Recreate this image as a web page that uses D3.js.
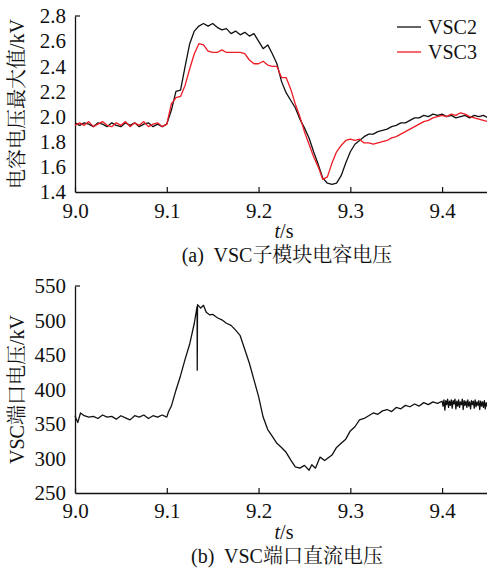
<!DOCTYPE html>
<html>
<head>
<meta charset="utf-8">
<script src="https://cdn.jsdelivr.net/npm/d3@7"></script>
<style>
  html, body { margin: 0; padding: 0; background: #fff; }
  svg { display: block; }
  text { font-family: "Liberation Serif", "Noto Serif CJK SC"; fill: #111; }
  .han { font-family: "Noto Serif CJK SC", "Noto Sans CJK SC"; }
</style>
</head>
<body>
<div id="chart"></div>
<script>

// DATA

const tickTime = [9.0, 9.1, 9.2, 9.3, 9.4];
const tickCap = [1.4, 1.6, 1.8, 2.0, 2.2, 2.4, 2.6, 2.8];
const tickDc = [250, 300, 350, 400, 450, 500, 550];

const seriesNames = ['VSC2', 'VSC3'];

// capacitor voltage, sampled every 5 ms from 9.000 to 9.450 s
const tCap = [
  9.000, 9.005, 9.010, 9.015, 9.020, 9.025, 9.030, 9.035, 9.040, 9.045,
  9.050, 9.055, 9.060, 9.065, 9.070, 9.075, 9.080, 9.085, 9.090, 9.095,
  9.100, 9.105, 9.110, 9.115, 9.120, 9.125, 9.130, 9.135, 9.140, 9.145,
  9.150, 9.155, 9.160, 9.165, 9.170, 9.175, 9.180, 9.185, 9.190, 9.195,
  9.200, 9.205, 9.210, 9.215, 9.220, 9.225, 9.230, 9.235, 9.240, 9.245,
  9.250, 9.255, 9.260, 9.265, 9.270, 9.275, 9.280, 9.285, 9.290, 9.295,
  9.300, 9.305, 9.310, 9.315, 9.320, 9.325, 9.330, 9.335, 9.340, 9.345,
  9.350, 9.355, 9.360, 9.365, 9.370, 9.375, 9.380, 9.385, 9.390, 9.395,
  9.400, 9.405, 9.410, 9.415, 9.420, 9.425, 9.430, 9.435, 9.440, 9.445,
  9.450
];

const vsc2 = [
  1.95, 1.93, 1.95, 1.94, 1.92, 1.95, 1.94, 1.92, 1.95, 1.93,
  1.92, 1.95, 1.93, 1.95, 1.92, 1.94, 1.95, 1.92, 1.94, 1.92,
  1.94, 2.05, 2.20, 2.21, 2.40, 2.58, 2.68, 2.72, 2.74, 2.72,
  2.74, 2.71, 2.69, 2.70, 2.66, 2.68, 2.65, 2.67, 2.64, 2.66,
  2.60, 2.54, 2.57, 2.50, 2.42, 2.28, 2.19, 2.13, 2.07, 1.98,
  1.91, 1.83, 1.72, 1.62, 1.51, 1.47, 1.46, 1.47, 1.53, 1.63,
  1.72, 1.78, 1.81, 1.84, 1.86, 1.86, 1.88, 1.89, 1.90, 1.92,
  1.93, 1.95, 1.95, 1.97, 1.99, 1.99, 2.01, 2.00, 2.02, 2.01,
  2.02, 2.00, 2.01, 1.99, 2.00, 2.01, 1.99, 2.01, 2.00, 2.01,
  1.99
];

const vsc3 = [
  1.93, 1.95, 1.93, 1.96, 1.92, 1.94, 1.96, 1.93, 1.92, 1.95,
  1.93, 1.96, 1.92, 1.95, 1.93, 1.96, 1.92, 1.94, 1.95, 1.92,
  1.94, 2.10, 2.15, 2.16, 2.25, 2.38, 2.50, 2.58, 2.57, 2.52,
  2.51, 2.51, 2.53, 2.51, 2.51, 2.51, 2.51, 2.50, 2.45, 2.42,
  2.42, 2.44, 2.41, 2.40, 2.40, 2.31, 2.31, 2.22, 2.10, 2.00,
  1.88, 1.78, 1.68, 1.60, 1.50, 1.52, 1.63, 1.72, 1.77, 1.81,
  1.82, 1.81, 1.82, 1.79, 1.79, 1.78, 1.79, 1.80, 1.81, 1.83,
  1.84, 1.86, 1.88, 1.90, 1.92, 1.94, 1.96, 1.97, 1.99, 2.00,
  2.01, 2.00, 2.02, 2.01, 2.03, 2.02, 2.00, 1.99, 1.98, 1.97,
  1.96
];

// VSC port DC voltage
const tDc = [
  9.000, 9.003, 9.006, 9.010, 9.015, 9.020, 9.025, 9.030, 9.035, 9.040,
  9.045, 9.050, 9.055, 9.060, 9.065, 9.070, 9.075, 9.080, 9.085, 9.090,
  9.095, 9.100, 9.102, 9.105, 9.110, 9.115, 9.120, 9.125, 9.130, 9.1330,
  9.1332, 9.1335, 9.137, 9.140, 9.143, 9.147, 9.150, 9.155, 9.160, 9.165,
  9.170, 9.175, 9.180, 9.185, 9.190, 9.195, 9.200, 9.205, 9.210, 9.215,
  9.220, 9.225, 9.230, 9.235, 9.240, 9.245, 9.250, 9.255, 9.258, 9.262,
  9.267, 9.272, 9.276, 9.280, 9.285, 9.290, 9.295, 9.300, 9.305, 9.310,
  9.315, 9.320, 9.325, 9.330, 9.335, 9.340, 9.345, 9.350, 9.355, 9.360,
  9.365, 9.370, 9.375, 9.380, 9.385, 9.390, 9.395, 9.400,
  9.401, 9.402, 9.403, 9.404, 9.405, 9.406, 9.407, 9.408, 9.409, 9.410,
  9.411, 9.412, 9.413, 9.414, 9.415, 9.416, 9.417, 9.418, 9.419, 9.420,
  9.421, 9.422, 9.423, 9.424, 9.425, 9.426, 9.427, 9.428, 9.429, 9.430,
  9.431, 9.432, 9.433, 9.434, 9.435, 9.436, 9.437, 9.438, 9.439, 9.440,
  9.441, 9.442, 9.443, 9.444, 9.445, 9.446, 9.447, 9.448, 9.449, 9.450
];

const vDc = [
  362, 352, 366, 362, 360, 361, 358, 363, 360, 361,
  357, 362, 359, 356, 362, 360, 363, 358, 362, 360,
  363, 360, 368, 376, 399, 420, 444, 466, 496, 520,
  428, 523, 518, 522, 512, 508, 509, 504, 501, 496,
  493, 486, 478, 458, 438, 414, 390, 360, 342, 332,
  322, 316, 309, 298, 288, 286, 290, 283, 291, 286,
  302, 297, 301, 305, 316, 322, 328, 340, 346, 356,
  358, 362, 366, 364, 369, 371, 368, 374, 372, 377,
  375, 379, 376, 381, 378, 382, 380, 383,
  376, 385, 370, 384, 378, 386, 374, 383, 377, 385,
  373, 384, 379, 386, 372, 383, 376, 385, 374, 382,
  378, 386, 371, 384, 377, 383, 374, 385, 376, 382,
  372, 384, 378, 383, 373, 385, 375, 382, 377, 384,
  371, 383, 376, 382, 374, 384, 372, 381, 376, 383,
  373, 382, 377, 383, 372, 381, 375, 383, 374, 377
];

// LAYOUT

const W = 487, H = 570,
      left = 75, right = 488,
      serif = '"Liberation Serif", "Noto Serif CJK SC"';

const svg = d3.select('#chart')
  .append('svg')
  .attr('width', W)
  .attr('height', H);

const x = d3.scaleLinear().domain([9.0, 9.45]).range([left, right]);

// split a label into latin / han runs so each gets its own serif face
const mixedText = (sel, str) => {
  for (const part of str.match(/[\u4e00-\u9fff]+|[^\u4e00-\u9fff]+/g)) {
    sel.append('tspan')
      .classed('han', /[\u4e00-\u9fff]/.test(part))
      .text(part);
  }
};

const drawPanel = ({ top, bottom, yDomain, yTicks, yFormat, yTitle, xPad, caption, series }) => {

  const y = d3.scaleLinear().domain(yDomain).range([bottom, top]);

  const xAxis = svg.append('g')
    .attr('transform', `translate(0,${bottom})`)
    .call(d3.axisBottom(x).tickValues(tickTime).tickFormat(d3.format('.1f'))
      .tickSizeInner(-5).tickSizeOuter(0).tickPadding(xPad));

  const yAxis = svg.append('g')
    .attr('transform', `translate(${left},0)`)
    .call(d3.axisLeft(y).tickValues(yTicks).tickFormat(yFormat)
      .tickSizeInner(0).tickSizeOuter(0).tickPadding(9));

  for (const g of [xAxis, yAxis]) {
    g.attr('font-family', serif).attr('font-size', 21);
    g.select('.domain').attr('stroke', '#111').attr('stroke-width', 1.3);
    g.selectAll('.tick line').attr('stroke', '#111').attr('stroke-width', 1.2);
    g.selectAll('.tick text')
      .attr('fill', '#111')
      .style('font-family', serif)
      .style('font-size', '21px');
  }

  // short inward tick at the top of the y axis
  svg.append('line')
    .attr('x1', left).attr('x2', left + 5)
    .attr('y1', y(yDomain[1])).attr('y2', y(yDomain[1]))
    .attr('stroke', '#111').attr('stroke-width', 1.2);

  const line = d3.line()
    .x(d => x(d[0]))
    .y(d => y(d[1]));

  for (const s of series) {
    svg.append('path')
      .datum(s.t.map((t, i) => [t, s.v[i]]))
      .attr('fill', 'none')
      .attr('stroke', s.color)
      .attr('stroke-width', 1.3)
      .attr('stroke-linejoin', 'round')
      .attr('d', line);
  }

  const title = svg.append('text')
    .attr('transform', `translate(24,${(top + bottom) / 2}) rotate(-90)`)
    .attr('text-anchor', 'middle')
    .style('font-size', '20px');
  mixedText(title, yTitle);

  const tLabel = svg.append('text')
    .attr('x', 284)
    .attr('y', bottom + 46)
    .attr('text-anchor', 'middle')
    .style('font-size', '20px');
  tLabel.append('tspan').style('font-style', 'italic').text('t');
  tLabel.append('tspan').text('/s');

  const cap = svg.append('text')
    .attr('x', 287)
    .attr('y', bottom + 70)
    .attr('text-anchor', 'middle')
    .attr('xml:space', 'preserve')
    .style('font-size', '20px');
  mixedText(cap, caption);

  return y;
};

drawPanel({
  top: 16, bottom: 192,
  yDomain: [1.4, 2.8], yTicks: tickCap, yFormat: d3.format('.1f'),
  yTitle: '电容电压最大值/kV',
  xPad: 11,
  caption: '(a)  VSC子模块电容电压',
  series: [
    { t: tCap, v: vsc2, color: '#111' },
    { t: tCap, v: vsc3, color: '#ee1c25' }
  ]
});

drawPanel({
  top: 286, bottom: 493,
  yDomain: [250, 550], yTicks: tickDc, yFormat: d3.format('d'),
  yTitle: 'VSC端口电压/kV',
  xPad: 10,
  caption: '(b)  VSC端口直流电压',
  series: [
    { t: tDc, v: vDc, color: '#111' }
  ]
});

// legend
const legendColors = ['#111', '#ee1c25'];
const legend = svg.append('g')
  .selectAll('g')
  .data(seriesNames)
  .join('g')
  .attr('transform', (d, i) => `translate(397,${27 + i * 25})`);

legend.append('line')
  .attr('x1', 0).attr('x2', 24)
  .attr('stroke', (d, i) => legendColors[i])
  .attr('stroke-width', 1.3);

legend.append('text')
  .attr('x', 31)
  .attr('y', 7)
  .style('font-size', '20px')
  .text(d => d);

</script>
</body>
</html>
